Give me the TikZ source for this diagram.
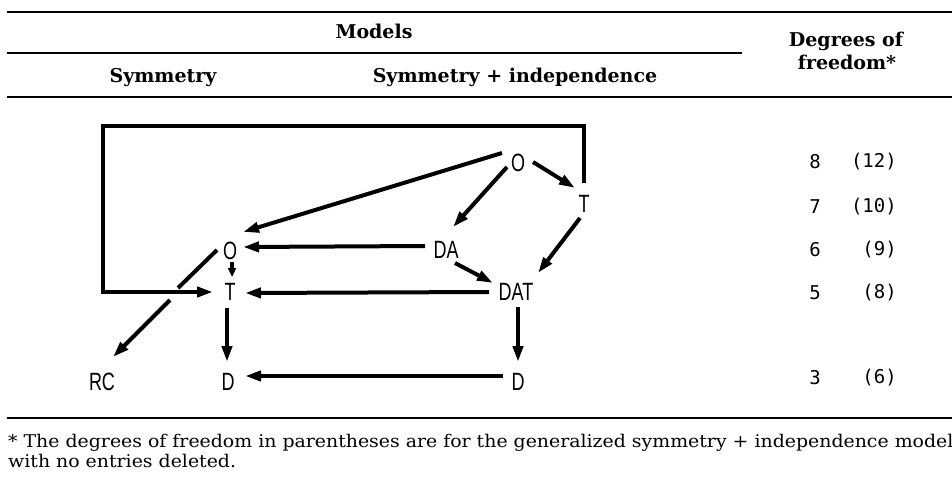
\documentclass[tikz,border=0pt]{standalone}
\usepackage{fontspec}
\setmainfont{DejaVu Serif}
\newfontfamily\fnfont[FakeStretch=1.08]{DejaVu Serif}
\newfontfamily\labfont[FakeStretch=0.72]{Liberation Sans}
\newfontfamily\numfont{DejaVu Sans Mono}
\usetikzlibrary{arrows.meta,calc}
\begin{document}
\begin{tikzpicture}[x=1pt,y=-1pt,
  lab/.style={font={\labfont\fontsize{25}{25}\selectfont}, inner sep=0pt},
  hdr/.style={font={\bfseries\fontsize{19}{20}\selectfont}, inner sep=0pt, anchor=base},
  fn/.style={font={\fnfont\fontsize{17.5}{20}\selectfont}, inner sep=0pt, anchor=base west},
  num/.style={font={\numfont\fontsize{19}{20}\selectfont}, inner sep=0pt},
  arr/.style={line width=4pt, -{Triangle[length=16pt,width=10pt]}},
  seg/.style={line width=4pt},
  rule/.style={line width=#1},
]
\useasboundingbox (0,0) rectangle (952,487);
% rules
\draw[rule=2pt] (7,12) -- (952,12);
\draw[rule=1.4pt] (7,53) -- (742,53);
\draw[rule=2.6pt] (7,97) -- (952,97);
\draw[rule=2.8pt] (7,418) -- (952,418);
% header
\node[hdr] (hmod) at (374,38) {Models};
\node[hdr] (hdeg) at (846,47) {Degrees of};
\node[hdr] (hfree) at (847,70) {freedom*};
\node[hdr] (hsym) at (163,82) {Symmetry};
\node[hdr] (hsi) at (515,82) {Symmetry + independence};
% diagram nodes
\node[lab] (Otop) at (518,163) {O};
\node[lab] (Tr) at (584,204) {T};
\node[lab] (Ol) at (230,251) {O};
\node[lab] (DA) at (446,250) {DA};
\node[lab] (DAT) at (516,292) {DAT};
\node[lab] (Tl) at (230,292) {T};
\node[lab] (RC) at (102,382) {RC};
\node[lab] (Dl) at (228,382) {D};
\node[lab] (Dr) at (518,382) {D};
% arrows
\draw[arr] ($(Otop)+(-16,-10)$) -- ($(Ol)+(13,-19)$);
\draw[arr] ($(Otop)+(-11,4)$) -- ($(DA)+(7,-23)$);
\draw[arr] ($(Otop)+(15,-1)$) -- ($(Tr)+(-9,-16)$);
\draw[arr] ($(Tr)+(-4,14)$) -- ($(DAT)+(22,-19)$);
\draw[arr] ($(DA)+(-21,-4)$) -- ($(Ol)+(13,-4)$);
\draw[arr] ($(DA)+(9,13)$) -- ($(DAT)+(-23,-9)$);
\draw[line width=3.2pt, -{Triangle[length=9pt,width=8pt]}] ($(Ol)+(2,11)$) -- ($(Tl)+(2,-15)$);
\draw[arr] ($(DAT)+(-27,0)$) -- ($(Tl)+(15,1)$);
\draw[arr, line join=miter] ($(Tr)+(0,-21)$) -- (584,126) -- (103,126) -- (103,292) -- ($(Tl)+(-17,0)$);
\draw[seg] ($(Ol)+(-13,-1)$) -- ($(Ol)+(-52,37)$);
\draw[arr] ($(Ol)+(-60,49)$) -- ($(RC)+(11,-25)$);
\draw[arr] ($(Tl)+(-3,16)$) -- ($(Dl)+(-1,-20)$);
\draw[arr] ($(DAT)+(2,15)$) -- ($(Dr)+(0,-20)$);
\draw[arr] ($(Dr)+(-15,-6)$) -- ($(Dl)+(17,-6)$);
% degrees of freedom
\node[num] (d8) at (815,162) {8};
\node[num, anchor=east] (p12) at (897,162) {(12)};
\node[num] (d7) at (815,207) {7};
\node[num, anchor=east] (p10) at (897,207) {(10)};
\node[num] (d6) at (815,250) {6};
\node[num, anchor=east] (p9) at (897,250) {(9)};
\node[num] (d5) at (815,293) {5};
\node[num, anchor=east] (p8) at (897,293) {(8)};
\node[num] (d3) at (815,378) {3};
\node[num, anchor=east] (p6) at (897,378) {(6)};
% footnote
\node[fn] (fn1) at (8,447) {* The degrees of freedom in parentheses are for the generalized symmetry + independence model};
\node[fn] (fn2) at (8,467) {with no entries deleted.};
\end{tikzpicture}
\end{document}
